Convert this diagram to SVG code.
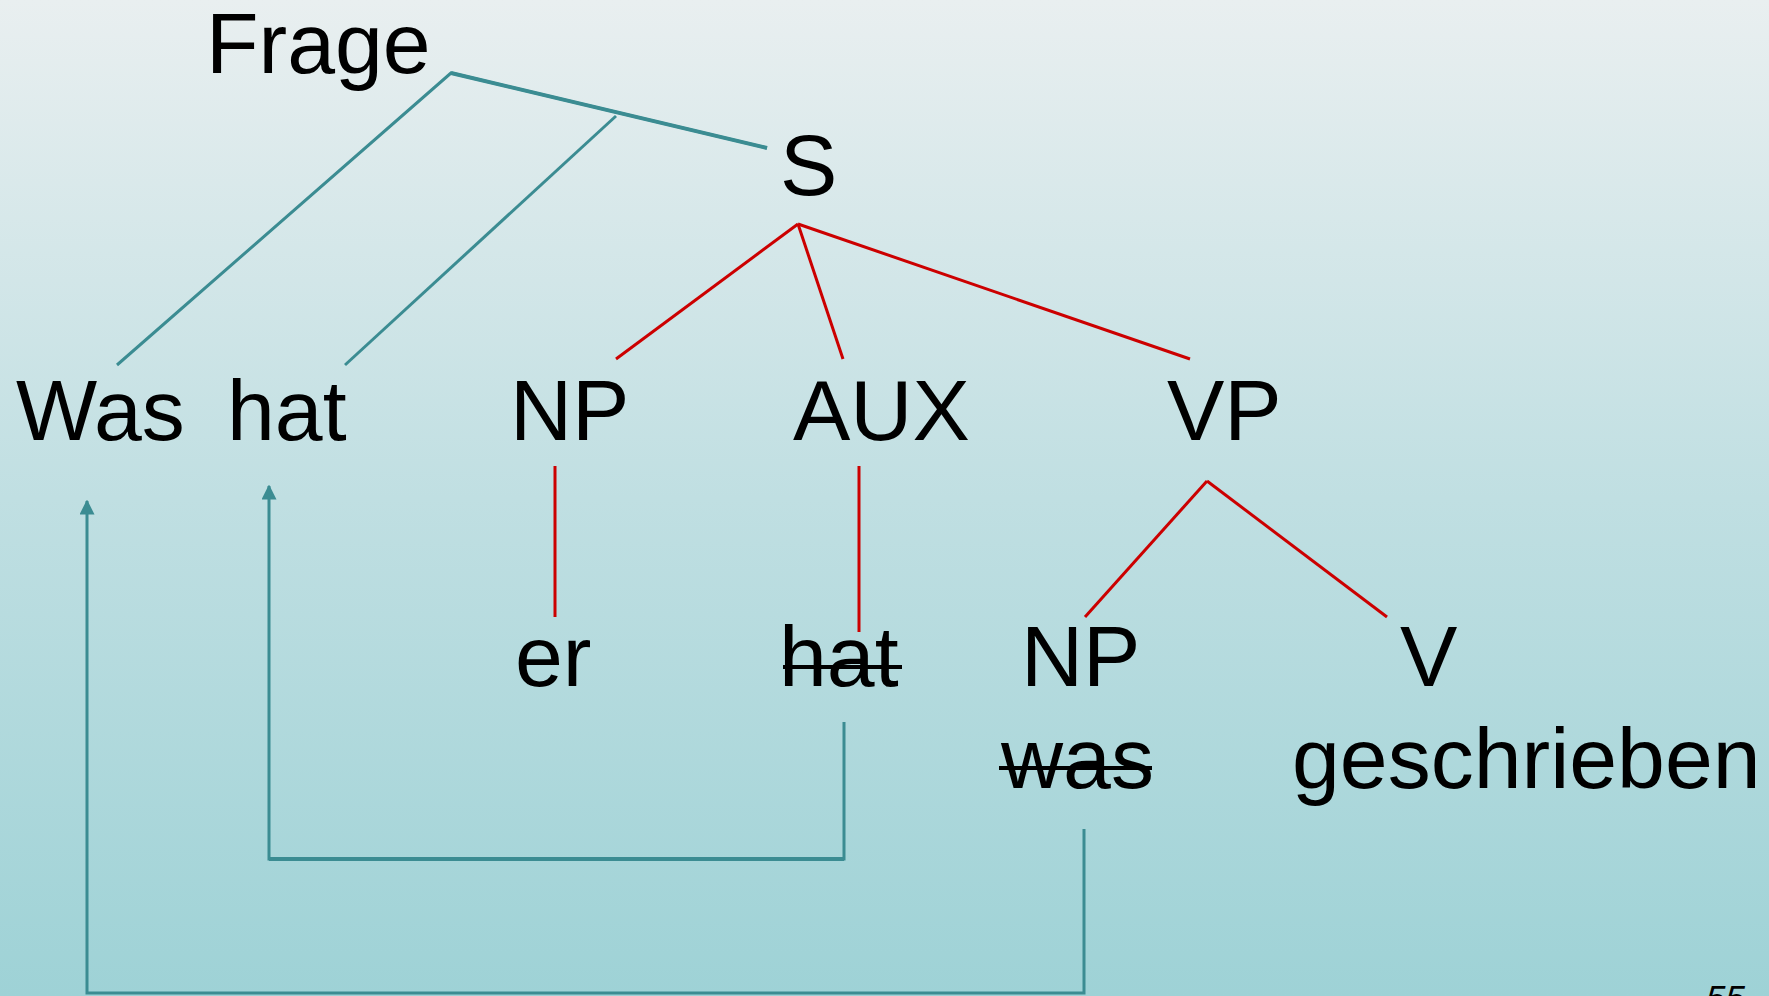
<svg xmlns="http://www.w3.org/2000/svg" width="1769" height="996" viewBox="0 0 1769 996">
<defs>
<linearGradient id="bg" x1="0" y1="0" x2="0" y2="1">
<stop offset="0" stop-color="#e9eff0"/>
<stop offset="0.5" stop-color="#c0dfe2"/>
<stop offset="1" stop-color="#9ed2d6"/>
</linearGradient>
<marker id="arr" markerWidth="5" markerHeight="5" refX="4.5" refY="2.5" orient="auto" markerUnits="strokeWidth">
<path d="M0,0 L5,2.5 L0,5 z" fill="#3b8c92"/>
</marker>
<style>
.t{font-family:"Liberation Sans",Arial,sans-serif;font-size:86px;fill:#000}
.teal{stroke:#3b8c92;stroke-width:3;fill:none}
.red{stroke:#cc0000;stroke-width:3;fill:none}
.strike{stroke:#000;stroke-width:4}
</style>
</defs>
<rect x="0" y="0" width="1769" height="996" fill="url(#bg)"/>
<g id="connectors">
<polyline class="teal" points="117,365 451,73 767,148" stroke-width="3"/>
<line class="teal" x1="451" y1="73" x2="767" y2="148" style="stroke-width:4"/>
<line class="teal" x1="616" y1="116" x2="345" y2="365"/>
<line class="red" x1="798" y1="224" x2="616" y2="359"/>
<line class="red" x1="798" y1="224" x2="843" y2="359"/>
<line class="red" x1="798" y1="224" x2="1190" y2="359"/>
<line class="red" x1="555" y1="466" x2="555" y2="617"/>
<line class="red" x1="859" y1="466" x2="859" y2="632"/>
<line class="red" x1="1085" y1="617" x2="1207" y2="481"/>
<line class="red" x1="1207" y1="481" x2="1387" y2="617"/>
<polyline class="teal" points="844,722 844,859 269,859 269,486" marker-end="url(#arr)"/>
<line class="teal" x1="269" y1="859" x2="844" y2="859" style="stroke-width:4"/>
<polyline class="teal" points="1084,829 1084,993 87,993 87,501" marker-end="url(#arr)"/>
</g>
<g id="node-frage"><text class="t" x="206" y="73">Frage</text></g>
<g id="node-s"><text class="t" x="780" y="195">S</text></g>
<g id="node-was"><text class="t" x="16" y="440">Was</text></g>
<g id="node-hat"><text class="t" x="227" y="440">hat</text></g>
<g id="node-np1"><text class="t" x="510" y="440">NP</text></g>
<g id="node-aux"><text class="t" x="793" y="440">AUX</text></g>
<g id="node-vp"><text class="t" x="1167" y="440">VP</text></g>
<g id="node-er"><text class="t" x="515" y="686">er</text></g>
<g id="node-hat-struck"><text class="t" x="779" y="686">hat</text><line class="strike" x1="783" y1="667" x2="902" y2="667"/></g>
<g id="node-np2"><text class="t" x="1021" y="686">NP</text></g>
<g id="node-was-struck"><text class="t" x="1001" y="788">was</text><line class="strike" x1="999" y1="768" x2="1152" y2="768"/></g>
<g id="node-v"><text class="t" x="1400" y="686">V</text></g>
<g id="node-geschrieben"><text class="t" x="1292" y="788">geschrieben</text></g>
<g id="page-number"><text x="1706" y="1010" style="font-family:'Liberation Sans',Arial,sans-serif;font-size:35px;font-style:italic;fill:#000">55</text></g>
</svg>
